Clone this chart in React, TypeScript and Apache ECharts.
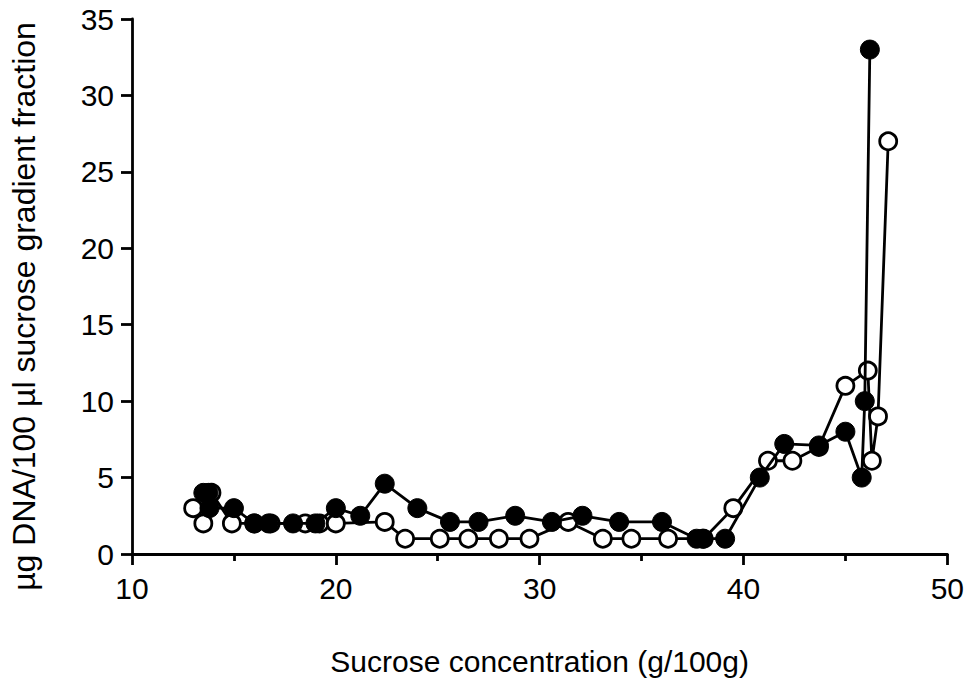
import React, { useEffect, useRef } from "react";
import * as echarts from "echarts";

// Filled circles (●): [sucrose g/100g, µg DNA/100 µl]
const filledSeries: [number, number][] = [
  [13.5, 4.0], [13.75, 4.0], [13.8, 3.0], [15.0, 3.0], [16.0, 2.0], [16.7, 2.0],
  [17.9, 2.0], [19.0, 2.0], [20.0, 3.0], [21.2, 2.5], [22.4, 4.6], [24.0, 3.0],
  [25.6, 2.1], [27.0, 2.1], [28.8, 2.5], [30.6, 2.1], [32.1, 2.5], [33.9, 2.1],
  [36.0, 2.1], [37.7, 1.0], [38.0, 1.0], [39.1, 1.0], [40.8, 5.0], [42.0, 7.2],
  [43.7, 7.1], [45.0, 8.0], [45.8, 5.0], [45.95, 10.0], [46.2, 33.0],
];

// Open circles (○)
const openSeries: [number, number][] = [
  [13.0, 3.0], [13.5, 2.0], [13.9, 4.0], [14.9, 2.0], [16.0, 2.0], [16.8, 2.0],
  [18.5, 2.0], [19.2, 2.0], [20.0, 2.0], [22.4, 2.1], [23.4, 1.0], [25.1, 1.0],
  [26.5, 1.0], [28.0, 1.0], [29.5, 1.0], [31.4, 2.1], [33.1, 1.0], [34.5, 1.0],
  [36.3, 1.0], [38.05, 1.0], [39.5, 3.0], [41.2, 6.1], [42.4, 6.1], [43.7, 7.0],
  [45.0, 11.0], [46.1, 12.0], [46.3, 6.1], [46.6, 9.0], [47.1, 27.0],
];

const xTitle = "Sucrose concentration (g/100g)";
const yTitle = "\u00b5g DNA/100 \u00b5l sucrose gradient fraction";

export default function App() {
  const ref = useRef<HTMLDivElement>(null);
  useEffect(() => {
    if (!ref.current) return;
    const chart = echarts.init(ref.current, null, { renderer: "svg" });
    const font = "'Liberation Sans', Arial, Helvetica, sans-serif";
    const axisCommon = {
      axisLine: { show: true, lineStyle: { color: "#000", width: 2.8 } },
      axisTick: { show: true, inside: false, length: 11, lineStyle: { color: "#000", width: 2.8 } },
      splitLine: { show: false },
      axisLabel: { color: "#000", fontSize: 30, fontFamily: font },
    };
    chart.setOption({
      animation: false,
      backgroundColor: "#fff",
      grid: { left: 128, right: 19, top: 19, bottom: 132, containLabel: false },
      xAxis: {
        type: "value",
        min: 10,
        max: 50,
        interval: 10,
        name: xTitle,
        nameLocation: "middle",
        nameGap: 92,
        nameTextStyle: { color: "#000", fontSize: 30, fontFamily: font },
        ...axisCommon,
        axisLabel: { ...axisCommon.axisLabel, margin: 19 },
        minorTick: { show: true, splitNumber: 2, length: 7, lineStyle: { color: "#000", width: 2.8 } },
      },
      yAxis: {
        type: "value",
        min: 0,
        max: 35,
        interval: 5,
        name: yTitle,
        nameLocation: "middle",
        nameGap: 92,
        nameRotate: 90,
        nameTextStyle: { color: "#000", fontSize: 32, fontFamily: font, padding: [0, 40, 0, 0] },
        ...axisCommon,
        axisLabel: { ...axisCommon.axisLabel, margin: 18 },
      },
      series: [
        {
          name: "open",
          type: "line",
          data: openSeries,
          symbol: "circle",
          symbolSize: 17,
          lineStyle: { color: "#000", width: 2.8 },
          itemStyle: { color: "#fff", borderColor: "#000", borderWidth: 2.8 },
          z: 2,
        },
        {
          name: "filled",
          type: "line",
          data: filledSeries,
          symbol: "circle",
          symbolSize: 19,
          lineStyle: { color: "#000", width: 2.8 },
          itemStyle: { color: "#000", borderColor: "#000", borderWidth: 1 },
          z: 3,
        },
      ],
    });
    return () => chart.dispose();
  }, []);
  return (
    <div
      ref={ref}
      style={{ position: "fixed", left: 0, top: 0, width: 967, height: 686 }}
    />
  );
}
